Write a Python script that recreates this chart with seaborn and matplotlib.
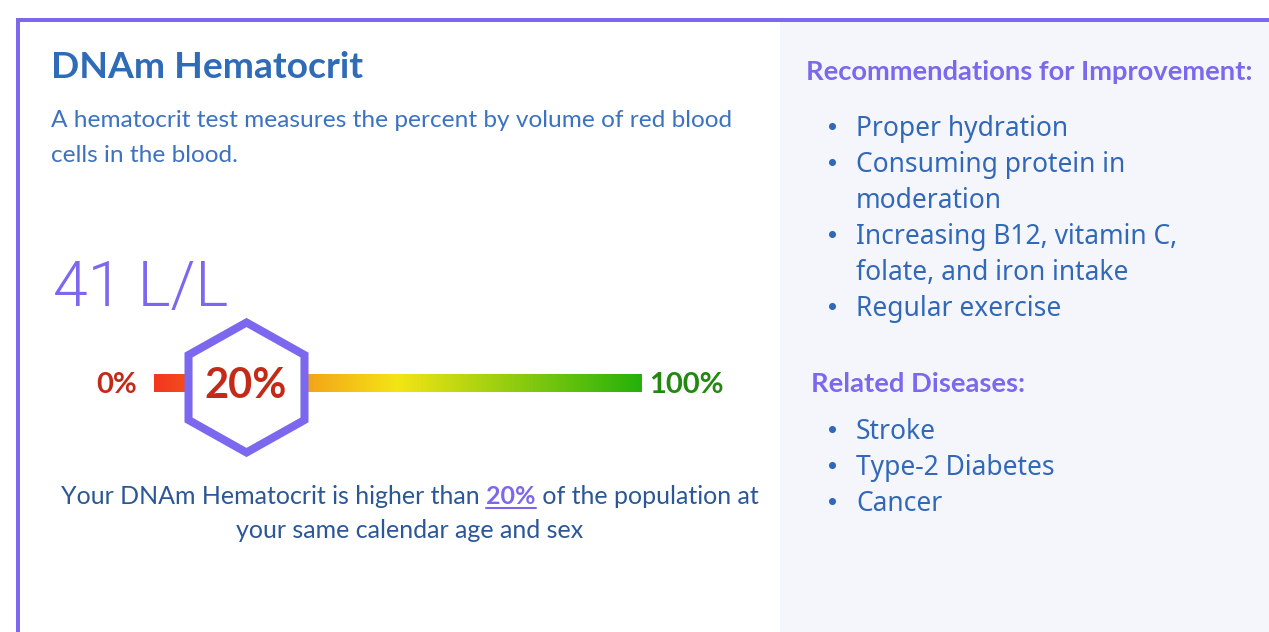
import matplotlib
matplotlib.use("Agg")
import numpy as np
import matplotlib.pyplot as plt
from matplotlib.colors import LinearSegmentedColormap
from matplotlib.patches import Rectangle
from matplotlib.path import Path
from matplotlib.transforms import offset_copy
import seaborn as sns

# ── DATA ──────────────────────────────────────────────────────────────────────

MARKER_NAME  = "DNAm Hematocrit"
DESCRIPTION  = ["A hematocrit test measures the percent by volume of red blood",
                "cells in the blood."]
VALUE_LABEL  = "41 L/L"
PERCENTILE   = 20
SCALE_MIN    = 0
SCALE_MAX    = 100
SUMMARY_PRE  = "Your DNAm Hematocrit is higher than "
SUMMARY_POST = " of the population at"
SUMMARY_L2   = "your same calendar age and sex"

REC_TITLE       = "Recommendations for Improvement:"
RECOMMENDATIONS = [["Proper hydration"],
                   ["Consuming protein in", "moderation"],
                   ["Increasing B12, vitamin C,", "folate, and iron intake"],
                   ["Regular exercise"]]
DIS_TITLE = "Related Diseases:"
DISEASES  = ["Stroke", "Type-2 Diabetes", "Cancer"]

GRADIENT = ["#f4361e", "#f3e515", "#25b10a"]

# ── STYLE ─────────────────────────────────────────────────────────────────────

PURPLE   = "#7b68ee"
TITLE_C  = "#2f6bb7"
DESC_C   = "#3b72c2"
SUMM_C   = "#2b5797"
BULLET_C = "#3168b8"
RED_C    = "#c42a18"
GREEN_C  = "#22880f"
PANEL_C  = "#f5f6fc"
NOTO     = ["Noto Sans", "DejaVu Sans"]

W, H, DPI = 1269, 632, 100

sns.set_theme(style="white")
plt.rcParams["font.family"] = ["Lato", "DejaVu Sans"]

fig = plt.figure(figsize=(W / DPI, H / DPI), dpi=DPI)
fig.patch.set_facecolor("white")

# full-figure axes in pixel coordinates for layout
bg = fig.add_axes([0, 0, 1, 1])
bg.set_xlim(0, W)
bg.set_ylim(H, 0)
bg.axis("off")

bg.add_patch(Rectangle((780, 20), W - 780, H - 20, color=PANEL_C, lw=0, zorder=0))
bg.add_patch(Rectangle((16, 18), W - 16, 4, color=PURPLE, lw=0, zorder=1))
bg.add_patch(Rectangle((16, 18), 4, H - 18, color=PURPLE, lw=0, zorder=1))

# ── LEFT CARD ─────────────────────────────────────────────────────────────────

bg.text(51, 78, MARKER_NAME, fontsize=26.8, fontweight="bold", color=TITLE_C, va="baseline")
for i, line in enumerate(DESCRIPTION):
    bg.text(51, 127 + 35 * i, line, fontsize=17.6, color=DESC_C, va="baseline")

bg.text(53, 306, VALUE_LABEL, fontsize=45, fontweight=300, color=PURPLE, va="baseline",
        family=["Roboto", "DejaVu Sans"])

# gauge axes: x in percent, y in pixels around the bar centre
gx0, gx1, gy_c = 154, 642, 383
gauge = fig.add_axes([gx0 / W, (H - gy_c - 80) / H, (gx1 - gx0) / W, 160 / H])
gauge.set_xlim(SCALE_MIN, SCALE_MAX)
gauge.set_ylim(-80, 80)
gauge.axis("off")

cmap = LinearSegmentedColormap.from_list("gauge", GRADIENT)
grad = np.linspace(0, 1, 512).reshape(1, -1)
gauge.imshow(grad, cmap=cmap, extent=(SCALE_MIN, SCALE_MAX, -9, 9),
             aspect="auto", zorder=1)

# hexagon badge (pointy top, slightly wider than regular), closed outline
hexw = 0.892
hex_path = Path([(0, 1), (hexw, 0.5), (hexw, -0.5), (0, -1), (-hexw, -0.5),
                 (-hexw, 0.5), (0, 1)], closed=True)
badge_tr = offset_copy(gauge.transData, fig=fig, x=-5.6, y=0, units="dots")
sns.scatterplot(x=[PERCENTILE], y=[-3.5], marker=hex_path, s=93.6 ** 2, color="white",
                edgecolor=PURPLE, linewidth=5.8, ax=gauge, zorder=3,
                clip_on=False, legend=False)
badge = gauge.collections[-1]
badge.set_offset_transform(badge_tr)
badge.set_joinstyle("miter")
gauge.text(PERCENTILE, -3, f"{PERCENTILE}%", ha="center", va="center",
           fontsize=30, fontweight="bold", color=RED_C, zorder=4, transform=badge_tr)
gauge.set_xlim(SCALE_MIN, SCALE_MAX)
gauge.set_ylim(-80, 80)

bg.text(137, 393, f"{SCALE_MIN}%", ha="right", va="baseline",
        fontsize=21, fontweight="bold", color=RED_C)
bg.text(649, 393, f"{SCALE_MAX}%", ha="left", va="baseline",
        fontsize=21, fontweight="bold", color=GREEN_C)

# summary sentence with highlighted percentile
renderer = fig.canvas.get_renderer()
pieces = [(SUMMARY_PRE, SUMM_C, "normal"),
          (f"{PERCENTILE}%", PURPLE, "bold"),
          (SUMMARY_POST, SUMM_C, "normal")]
texts = [bg.text(0, 504, s, fontsize=18, color=c, fontweight=w, va="baseline")
         for s, c, w in pieces]
inv = bg.transData.inverted()
widths = []
for t in texts:
    bb = t.get_window_extent(renderer)
    x0 = inv.transform((bb.x0, bb.y0))[0]
    x1 = inv.transform((bb.x1, bb.y0))[0]
    widths.append(x1 - x0)
cx = 410
x = cx - sum(widths) / 2
for t, w in zip(texts, widths):
    t.set_x(x)
    if t.get_text() == f"{PERCENTILE}%":
        bg.plot([x, x + w], [508, 508], color=PURPLE, lw=1.5)
    x += w
bg.text(cx, 538, SUMMARY_L2, fontsize=18, color=SUMM_C, ha="center", va="baseline")

# ── RIGHT PANEL ───────────────────────────────────────────────────────────────

bg.text(806, 80, REC_TITLE, fontsize=19.7, fontweight="bold", color=PURPLE, va="baseline")
y = 136
for item in RECOMMENDATIONS:
    bg.scatter([832], [y - 10], s=26, color=BULLET_C, lw=0)
    for line in item:
        bg.text(856, y, line, fontsize=19, color=BULLET_C, va="baseline", family=NOTO)
        y += 36

bg.text(811, 392, DIS_TITLE, fontsize=19.7, fontweight="bold", color=PURPLE, va="baseline")
y = 439
for item in DISEASES:
    bg.scatter([832], [y - 10], s=26, color=BULLET_C, lw=0)
    bg.text(856, y, item, fontsize=19, color=BULLET_C, va="baseline", family=NOTO)
    y += 36

fig.savefig("out.png", dpi=DPI)
